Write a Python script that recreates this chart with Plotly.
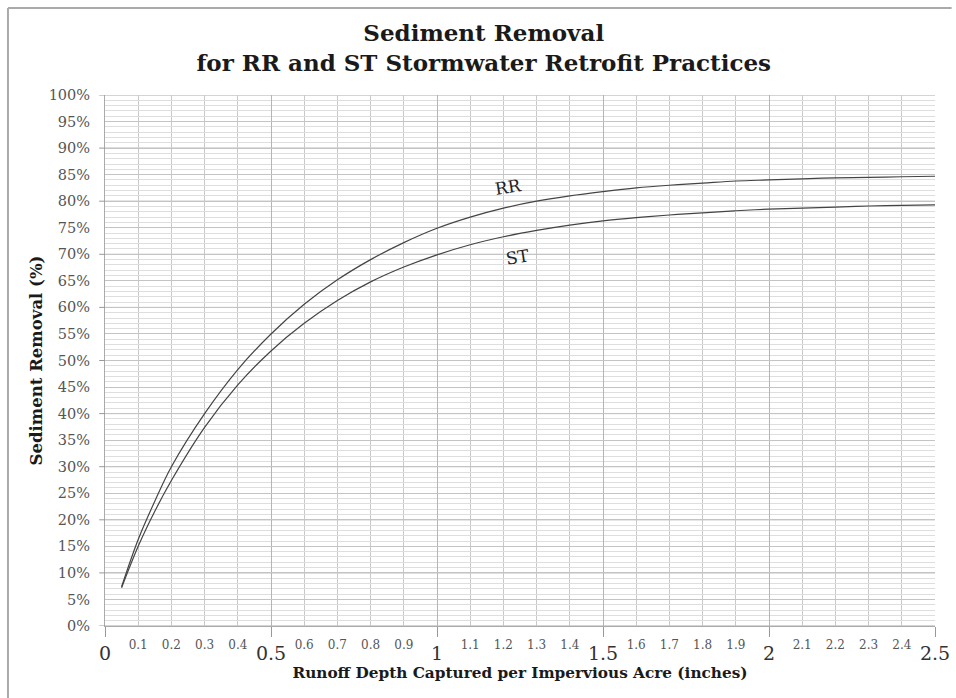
import plotly.graph_objects as go

# Data
runoff_x = [0.05, 0.1, 0.15, 0.2, 0.3, 0.4, 0.5, 0.6, 0.7, 0.8, 0.9, 1.0, 1.1, 1.2, 1.3,
            1.4, 1.5, 1.6, 1.7, 1.8, 1.9, 2.0, 2.1, 2.2, 2.3, 2.4, 2.5]
rr_removal = [7.4, 16.3, 23.5, 30.0, 40.0, 48.3, 55.0, 60.6, 65.2, 69.0, 72.2, 74.9, 77.0, 78.7, 80.0,
              81.0, 81.8, 82.5, 83.0, 83.4, 83.8, 84.0, 84.2, 84.4, 84.5, 84.6, 84.7]
st_removal = [7.2, 15.0, 21.6, 27.4, 37.4, 45.4, 51.8, 57.0, 61.3, 64.8, 67.6, 69.9, 71.8, 73.3, 74.5,
              75.5, 76.3, 76.9, 77.4, 77.8, 78.2, 78.5, 78.7, 78.9, 79.1, 79.2, 79.3]

major_x_ticks = [0, 0.5, 1, 1.5, 2, 2.5]
major_x_labels = ["0", "0.5", "1", "1.5", "2", "2.5"]
minor_x_ticks = [0.1, 0.2, 0.3, 0.4, 0.6, 0.7, 0.8, 0.9, 1.1, 1.2, 1.3, 1.4, 1.6, 1.7, 1.8, 1.9,
                 2.1, 2.2, 2.3, 2.4]
minor_x_labels = ["0.1", "0.2", "0.3", "0.4", "0.6", "0.7", "0.8", "0.9", "1.1", "1.2", "1.3", "1.4",
                  "1.6", "1.7", "1.8", "1.9", "2.1", "2.2", "2.3", "2.4"]
y_ticks = list(range(0, 101, 5))
y_labels = [f"{v}%" for v in y_ticks]

SERIF = "'DejaVu Serif', Georgia, 'Liberation Serif', serif"

fig = go.Figure()
fig.add_trace(go.Scatter(x=runoff_x, y=rr_removal, mode="lines", name="RR",
                         line=dict(color="#444444", width=1.2, shape="spline"), showlegend=False))
fig.add_trace(go.Scatter(x=runoff_x, y=st_removal, mode="lines", name="ST",
                         line=dict(color="#444444", width=1.2, shape="spline"), showlegend=False))
# invisible trace to activate the second x axis (minor labels)
fig.add_trace(go.Scatter(x=[0, 2.5], y=[0, 0], xaxis="x2", mode="lines",
                         line=dict(width=0), hoverinfo="skip", showlegend=False))

fig.update_layout(
    width=956, height=698, autosize=False,
    margin=dict(l=105, r=21, t=95, b=72, autoexpand=False),
    paper_bgcolor="white", plot_bgcolor="white",
    font=dict(family=SERIF, color="#555555"),
    title=dict(text="<b>Sediment Removal<br>for RR and ST Stormwater Retrofit Practices</b>",
               x=0.506, xanchor="center", y=0.9415, yanchor="middle",
               font=dict(family=SERIF, size=23, color="#1a1a1a")),
    xaxis=dict(range=[0, 2.5], tickvals=major_x_ticks, ticktext=major_x_labels,
               tickfont=dict(size=19, color="#333333", family=SERIF),
               ticks="outside", ticklen=10, tickcolor="#999999",
               ticklabeloverflow="allow", automargin=False,
               showgrid=True, gridcolor="#b5b5b5", gridwidth=1,
               minor=dict(dtick=0.1, showgrid=True, gridcolor="#c8c8c8", gridwidth=1),
               zeroline=False, showline=True, linecolor="#aaaaaa",
               title=dict(text="<b>Runoff Depth Captured per Impervious Acre (inches)</b>",
                          font=dict(size=15.3, color="#1a1a1a", family=SERIF), standoff=2),
               fixedrange=True),
    xaxis2=dict(range=[0, 2.5], overlaying="x", anchor="y", side="bottom",
                tickvals=minor_x_ticks, ticktext=minor_x_labels,
                tickfont=dict(size=12, color="#555555", family=SERIF),
                ticks="", showgrid=False, zeroline=False, showline=False,
                automargin=False, ticklabelstandoff=10),
    yaxis=dict(range=[0, 100], tickvals=y_ticks, ticktext=y_labels,
               tickfont=dict(size=14.5, color="#555555", family=SERIF),
               ticks="", showgrid=True, gridcolor="#c4c4c4", gridwidth=1,
               minor=dict(dtick=1, showgrid=True, gridcolor="#dedede", gridwidth=1),
               zeroline=False, showline=True, linecolor="#aaaaaa", automargin=False,
               title=dict(text="<b>Sediment Removal (%)</b>",
                          font=dict(size=16.5, color="#1a1a1a", family=SERIF), standoff=1),
               ticklabelstandoff=11,
               fixedrange=True),
)

# darker horizontal lines every 10% and outside tick marks
for v in range(0, 101, 10):
    fig.add_shape(type="line", xref="x", yref="y", x0=0, x1=2.5, y0=v, y1=v,
                  line=dict(color="#aaaaaa", width=1), layer="below")
    fig.add_shape(type="line", xref="paper", yref="y", x0=-0.007, x1=0, y0=v, y1=v,
                  line=dict(color="#999999", width=1))

fig.add_annotation(x=1.214, y=82.6, text="RR", showarrow=False, textangle=-9,
                   font=dict(family=SERIF, size=17, color="#222222"))
fig.add_annotation(x=1.244, y=69.4, text="ST", showarrow=False, textangle=-9,
                   font=dict(family=SERIF, size=17, color="#222222"))

# outer frame (left and top edges)
fig.add_shape(type="line", xref="paper", yref="paper", x0=-0.1169, x1=-0.1169, y0=-0.2, y1=1.1638,
              line=dict(color="#aaaaaa", width=2))
fig.add_shape(type="line", xref="paper", yref="paper", x0=-0.1169, x1=1.02, y0=1.1638, y1=1.1638,
              line=dict(color="#aaaaaa", width=2))

fig.write_html("out.html", config={"displayModeBar": False, "responsive": False},
               post_script="document.body.style.margin='0px';")
